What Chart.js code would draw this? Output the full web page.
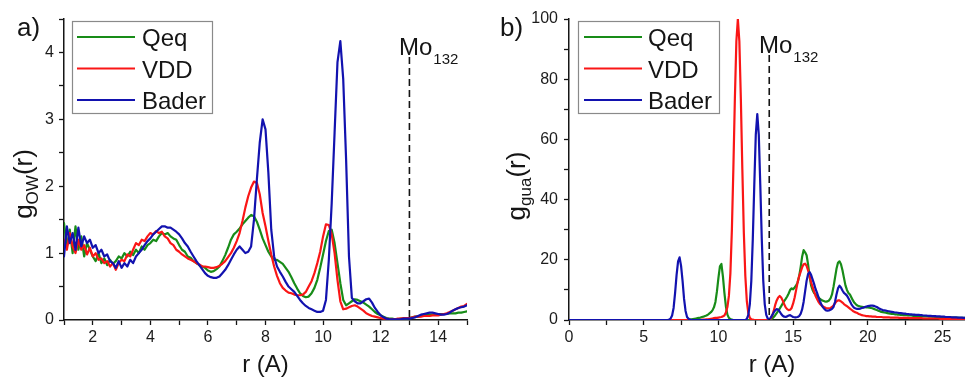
<!DOCTYPE html>
<html><head><meta charset="utf-8">
<script src="https://cdn.jsdelivr.net/npm/chart.js@4.4.1/dist/chart.umd.min.js"></script>
<style>
html,body{margin:0;padding:0;background:#fff;}
#wrap{position:relative;width:965px;height:384px;overflow:hidden;background:#fff;}
#ca{position:absolute;left:0;top:0;}
#cb{position:absolute;left:485px;top:0;}
</style></head><body>
<div id="wrap"><canvas id="ca" width="480" height="384"></canvas><canvas id="cb" width="480" height="384"></canvas></div>
<script>
// ---------------- DATA ----------------
const seriesNames = ['Qeq', 'VDD', 'Bader'];
const seriesColors = ['rgb(24,140,24)', 'rgb(250,22,22)', 'rgb(18,18,175)'];

// panel a) : r from 1.0 to 15.0, step 0.1
const rA_start = 1.0, rA_count = 141, rA_step = 0.1;
const qeqA = [
1.45,1.1,1.35,1.0,1.4,1.05,1.25,0.95,1.15,1.05,
0.95,0.88,1.0,0.85,0.92,0.82,0.9,0.84,0.88,0.95,
0.92,1.0,0.95,1.02,0.97,1.05,1.0,1.1,1.05,1.12,
1.15,1.2,1.18,1.25,1.3,1.28,1.3,1.25,1.22,1.2,
1.12,1.05,1.02,0.95,0.93,0.88,0.85,0.82,0.8,0.78,
0.74,0.72,0.73,0.76,0.8,0.88,0.97,1.08,1.2,1.28,
1.32,1.37,1.43,1.48,1.53,1.57,1.55,1.47,1.35,1.22,
1.12,1.02,0.95,0.9,0.9,0.87,0.84,0.78,0.72,0.64,
0.55,0.47,0.4,0.36,0.34,0.35,0.4,0.48,0.6,0.78,
0.98,1.18,1.33,1.35,1.15,0.85,0.55,0.3,0.22,0.25,
0.28,0.31,0.3,0.28,0.26,0.23,0.2,0.16,0.12,0.09,
0.07,0.05,0.03,0.02,0.02,0.01,0.01,0.02,0.02,0.02,
0.03,0.04,0.05,0.05,0.06,0.07,0.08,0.08,0.08,0.09,
0.09,0.09,0.09,0.09,0.1,0.1,0.1,0.11,0.11,0.12,
0.13];
const vddA = [
1.2,1.05,1.3,1.1,1.0,1.2,1.05,1.12,0.98,1.08,
0.95,1.0,0.9,0.92,0.85,0.88,0.8,0.85,0.75,0.85,
0.9,0.88,0.98,0.95,1.05,1.15,1.12,1.2,1.18,1.25,
1.3,1.28,1.33,1.3,1.32,1.25,1.22,1.15,1.12,1.05,
1.02,0.98,0.95,0.92,0.9,0.88,0.85,0.83,0.8,0.8,
0.79,0.78,0.78,0.79,0.81,0.84,0.88,0.94,1.0,1.08,
1.18,1.3,1.48,1.68,1.85,1.98,2.07,2.05,1.88,1.6,
1.4,1.18,0.98,0.8,0.66,0.55,0.48,0.44,0.41,0.4,
0.38,0.37,0.37,0.38,0.42,0.5,0.58,0.7,0.85,1.02,
1.25,1.43,1.42,1.28,1.0,0.6,0.28,0.16,0.17,0.19,
0.21,0.22,0.2,0.17,0.14,0.1,0.08,0.06,0.05,0.04,
0.03,0.02,0.02,0.01,0.01,0.01,0.02,0.02,0.03,0.03,
0.03,0.04,0.05,0.05,0.05,0.06,0.06,0.06,0.07,0.07,
0.07,0.08,0.09,0.1,0.12,0.14,0.16,0.18,0.2,0.21,
0.24];
const baderA = [
0.95,1.4,1.15,1.3,1.05,1.38,1.1,1.25,1.15,1.2,
1.08,1.12,1.0,1.05,0.95,0.98,0.88,0.85,0.78,0.88,
0.78,0.85,0.8,0.9,0.85,0.95,1.0,1.05,1.12,1.18,
1.22,1.28,1.32,1.36,1.4,1.4,1.38,1.38,1.35,1.32,
1.28,1.22,1.15,1.1,1.02,0.95,0.88,0.82,0.76,0.7,
0.66,0.64,0.63,0.63,0.65,0.7,0.75,0.82,0.9,0.98,
1.05,1.1,1.05,1.0,1.02,1.1,1.5,2.1,2.65,3.0,
2.85,2.2,1.35,0.95,0.8,0.72,0.65,0.57,0.5,0.46,
0.42,0.36,0.3,0.25,0.21,0.18,0.16,0.14,0.12,0.12,
0.14,0.3,0.9,1.75,2.8,3.85,4.17,3.6,2.4,0.95,
0.33,0.28,0.25,0.25,0.28,0.31,0.32,0.26,0.18,0.12,
0.07,0.04,0.02,0.01,0.01,0.01,0.01,0.01,0.02,0.02,
0.02,0.03,0.04,0.06,0.08,0.09,0.1,0.11,0.11,0.1,
0.09,0.08,0.08,0.09,0.11,0.14,0.16,0.18,0.19,0.2,
0.22];

// panel b) : r = 0, then 6.0 to 26.5 step 0.1
const rB_first = [0];
const rB_start = 6.0, rB_count = 206, rB_step = 0.1;
const qeqB = [0,
0,0,0,0,0,0,0,0,0,0,
0,0,0,0,0,0,0,0,0,0,
0,0.1,0.2,0.3,0.4,0.5,0.6,0.7,0.8,1.0,
1.1,1.3,1.5,1.8,2.2,2.6,3.2,4.2,6,9.5,
14,17.8,18.6,14.5,9,4.5,1.8,0.7,0.3,0.1,
0,0,0,0,0,0,0,0,0,0,
0,0,0,0,0,0,0,0,0,0,
0,0,0,0,0,0.2,0.5,1,1.6,2.3,
3,3.8,4.6,5.5,6.3,7,7.8,8.8,10,10.5,
10.2,10.8,11.5,12.5,14.5,17.5,21,23.2,22.5,21.5,
18.5,14.5,11.5,10,9,8.5,8,7.5,7,6.6,
6.4,6.2,6.1,6.2,6.5,7.2,8.5,11,14,17,
19,19.5,18.5,16.5,14,11.5,10,9,8.5,7.5,
6.5,5.7,5.2,4.8,4.6,4.5,4.4,4.3,4.3,4.2,
4.2,4.1,4.0,3.9,3.7,3.5,3.3,3.1,2.9,2.7,
2.6,2.5,2.4,2.3,2.2,2.1,2.0,2.0,1.9,1.9,
1.8,1.8,1.7,1.7,1.6,1.6,1.6,1.5,1.5,1.5,
1.4,1.4,1.4,1.3,1.3,1.3,1.3,1.2,1.2,1.2,
1.2,1.1,1.1,1.1,1.1,1.0,1.0,1.0,1.0,1.0,
0.9,0.9,0.9,0.9,0.9,0.8,0.8,0.8,0.8,0.8,
0.8,0.7,0.7,0.7,0.7,0.7];
const vddB = [0,
0,0,0,0,0,0,0,0,0,0,
0,0,0,0,0,0,0,0,0,0,
0,0,0,0,0,0,0,0,0,0.1,
0.1,0.1,0.2,0.2,0.3,0.4,0.5,0.6,0.7,0.7,
0.8,0.9,1.0,1.2,1.5,2.5,4.3,8,15.5,30,
50.5,73.5,92.6,100,92.6,73.5,50,29,14.6,6.3,
2.3,0.7,0.2,0.1,0,0,0,0,0,0,
0,0,0,0,0,0.5,1.5,3,5,6.5,
7.5,8,7.5,6.5,5.2,4.2,3.6,3.3,3.4,4,
5.5,7.5,10,12.5,14.5,16,17.5,18.5,18.7,18,
16.5,14.5,12.5,11,9.5,8,7,6,5.3,4.8,
4.5,4.2,4,3.9,3.9,4,4.3,4.8,5.5,6.2,
6.5,6.5,6.2,5.8,5.3,4.9,4.6,4.2,3.8,3.4,
3.0,2.7,2.5,2.3,2.0,1.8,1.6,1.5,1.4,1.3,
1.3,1.2,1.2,1.1,1.1,1.1,1.0,1.0,1.0,1.0,
0.9,0.9,0.9,0.9,0.9,0.8,0.8,0.8,0.8,0.8,
0.8,0.7,0.7,0.7,0.7,0.7,0.7,0.7,0.6,0.6,
0.6,0.6,0.6,0.6,0.6,0.6,0.6,0.5,0.5,0.5,
0.5,0.5,0.5,0.5,0.5,0.5,0.5,0.5,0.4,0.4,
0.4,0.4,0.4,0.4,0.4,0.4,0.4,0.4,0.4,0.4,
0.4,0.4,0.4,0.3,0.3,0.3];
const baderB = [0,
0,0,0,0,0,0,0,0.1,0.5,1.5,
4,9,15,19.5,20.8,18,13,7,3,1,
0.4,0.1,0,0,0,0,0,0,0,0,
0,0,0,0,0,0,0,0,0,0,
0,0,0,0,0,0,0,0,0,0,
0,0,0,0,0,0,0,0,0,0.4,
1.7,5.2,13,27,45,61.6,68.4,61.6,45,27,
13,5.2,1.7,0.5,0.2,0.8,1.6,2.5,3.2,3.6,
3.5,2.8,2.0,1.4,1.1,1.0,1.2,1.5,1.6,1.3,
1.0,0.9,0.9,1.0,1.3,2.0,3.5,6,9.5,13,
15.3,15.9,15,13.5,12,10.3,9,7.5,6.2,5.0,
4.2,3.6,3.2,3.1,3.2,3.4,3.7,4.3,6,8.5,
10.5,11.4,10.8,9.8,9.0,8.6,8.1,7.2,6.2,5.2,
4.5,4.0,3.8,3.7,3.7,3.8,4.0,4.1,4.3,4.5,
4.6,4.7,4.8,4.8,4.7,4.5,4.3,4.0,3.7,3.5,
3.3,3.2,3.1,3.0,2.9,2.8,2.7,2.6,2.5,2.5,
2.4,2.3,2.3,2.2,2.1,2.1,2.0,2.0,1.9,1.9,
1.8,1.8,1.7,1.7,1.7,1.6,1.6,1.5,1.5,1.5,
1.4,1.4,1.4,1.3,1.3,1.3,1.2,1.2,1.2,1.1,
1.1,1.1,1.0,1.0,1.0,1.0,0.9,0.9,0.9,0.9,
0.8,0.8,0.8,0.8,0.7,0.7];

// ticks
const xTicksA = [1,2,3,4,5,6,7,8,9,10,11,12,13,14,15];
const yTicksA = [0,0.5,1,1.5,2,2.5,3,3.5,4,4.5];
const xTicksB = [0,2.5,5,7.5,10,12.5,15,17.5,20,22.5,25];
const yTicksB = [0,10,20,30,40,50,60,70,80,90,100];
const moPosA = 13.0, moPosB = 13.4;

// ---------------- BUILD ----------------
const FONT = '"Liberation Sans", Arial, sans-serif';
const INK = '#151515';
function grid(start, n, step) { return Array.from({length: n}, (_, i) => +(start + i * step).toFixed(2)); }
const rA = grid(rA_start, rA_count, rA_step);
const rB = rB_first.concat(grid(rB_start, rB_count, rB_step));

function ds(xs, ys, k) {
  return { label: seriesNames[k], data: xs.map((x, i) => ({x: x, y: ys[i]})),
    borderColor: seriesColors[k], backgroundColor: seriesColors[k], borderWidth: 2.2,
    pointRadius: 0, tension: 0, fill: false, order: 3 - k };
}

function axis(min, max, ticks, labelFn, fitKey, fitVal, pad) {
  return {
    type: 'linear', min: min, max: max,
    afterBuildTicks: s => { s.ticks = ticks.map(v => ({value: v})); },
    ticks: { callback: labelFn, autoSkip: false, maxRotation: 0, minRotation: 0,
      font: {family: FONT, size: 16}, color: '#1c1c1c', padding: pad },
    grid: { display: true, drawOnChartArea: false, drawTicks: true, tickLength: 5,
      tickColor: INK, tickWidth: 1.3 },
    border: { display: true, color: INK, width: 1.5 },
    title: { display: false },
    afterFit: s => { s[fitKey] = fitVal; }
  };
}

const decoPlugin = {
  id: 'deco',
  afterDraw(chart) {
    const sp = chart.options.plugins.deco;
    const ctx = chart.ctx, ca = chart.chartArea;
    ctx.save();
    ctx.fillStyle = INK; ctx.textBaseline = 'alphabetic';
    // panel label
    ctx.textAlign = 'left';
    ctx.font = '26px ' + FONT;
    ctx.fillText(sp.panel, sp.panelX, sp.panelY);
    // x title
    ctx.textAlign = 'center';
    ctx.font = '24px ' + FONT;
    ctx.fillText('r (A)', (ca.left + ca.right) / 2 + sp.xTitleDx, sp.xTitleY);
    // y title (rotated, with subscript)
    ctx.save();
    ctx.translate(sp.yTitleX, sp.yTitleCY);
    ctx.rotate(-Math.PI / 2);
    ctx.textAlign = 'left';
    ctx.font = '26px ' + FONT; const w1 = ctx.measureText('g').width, w3 = ctx.measureText('(r)').width;
    ctx.font = '17px ' + FONT; const w2 = ctx.measureText(sp.ySub).width;
    const x0 = -(w1 + w2 + w3) / 2;
    ctx.font = '26px ' + FONT; ctx.fillText('g', x0, 0);
    ctx.font = '17px ' + FONT; ctx.fillText(sp.ySub, x0 + w1, 6);
    ctx.font = '26px ' + FONT; ctx.fillText('(r)', x0 + w1 + w2, 0);
    ctx.restore();
    // Mo132 dashed marker
    const px = chart.scales.x.getPixelForValue(sp.mo);
    ctx.strokeStyle = INK; ctx.lineWidth = 1.6; ctx.setLineDash([7, 4]);
    ctx.beginPath(); ctx.moveTo(px, sp.moTop); ctx.lineTo(px, ca.bottom); ctx.stroke();
    ctx.setLineDash([]);
    ctx.textAlign = 'left';
    ctx.font = '24px ' + FONT; ctx.fillText('Mo', sp.moX, sp.moY);
    const wm = ctx.measureText('Mo').width;
    ctx.font = '15px ' + FONT; ctx.fillText('132', sp.moX + wm + 1, sp.moY + 8.5);
    // legend
    const L = sp.legend;
    ctx.fillStyle = '#fff'; ctx.fillRect(L.x, L.y, L.w, L.h);
    ctx.strokeStyle = '#8a8a8a'; ctx.lineWidth = 1.2; ctx.strokeRect(L.x + 0.5, L.y + 0.5, L.w, L.h);
    ctx.font = '24px ' + FONT;
    chart.data.datasets.forEach((d, i) => {
      const y = L.rows[i];
      ctx.strokeStyle = d.borderColor; ctx.lineWidth = 2.2;
      ctx.beginPath(); ctx.moveTo(L.x1, y); ctx.lineTo(L.x2, y); ctx.stroke();
      ctx.fillStyle = INK; ctx.fillText(d.label, L.tx, y + 9);
    });
    ctx.restore();
  }
};

function makeChart(id, xs, ys, xAxis, yAxis, padding, deco) {
  return new Chart(document.getElementById(id), {
    type: 'line',
    data: { datasets: ys.map((v, k) => ds(xs, v, k)) },
    options: {
      responsive: false, animation: false, devicePixelRatio: 1,
      layout: { padding: padding },
      scales: { x: xAxis, y: yAxis },
      plugins: { legend: {display: false}, tooltip: {enabled: false}, title: {display: false}, deco: deco },
      elements: { line: { borderJoinStyle: 'round', borderCapStyle: 'round' } }
    },
    plugins: [decoPlugin]
  });
}

makeChart('ca', rA, [qeqA, vddA, baderA],
  axis(1, 15, xTicksA, v => (v % 2 === 0 ? String(v) : ''), 'height', 64, 3),
  axis(0, 4.5, yTicksA, v => (Number.isInteger(v) ? String(v) : ''), 'width', 64, 5),
  {top: 19, right: 13, left: 0, bottom: 0},
  { panel: 'a)', panelX: 17, panelY: 36, xTitleDx: 0, xTitleY: 372,
    ySub: 'OW', yTitleX: 32, yTitleCY: 184,
    mo: moPosA, moTop: 57, moX: 399, moY: 55,
    legend: {x: 72, y: 21, w: 140, h: 92, x1: 77, x2: 135, tx: 142, rows: [37, 68.5, 100]} });

makeChart('cb', rB, [qeqB, vddB, baderB],
  axis(0, 26.5, xTicksB, v => (v % 5 === 0 ? String(v) : ''), 'height', 64, 3),
  axis(0, 100, yTicksB, v => (v % 20 === 0 ? String(v) : ''), 'width', 84, 6),
  {top: 19, right: 0, left: 0, bottom: 0},
  { panel: 'b)', panelX: 15, panelY: 36, xTitleDx: 5, xTitleY: 372,
    ySub: 'gua', yTitleX: 40, yTitleCY: 186,
    mo: moPosB, moTop: 55, moX: 274, moY: 53,
    legend: {x: 93, y: 21, w: 141, h: 92, x1: 99, x2: 157, tx: 163, rows: [37, 68.5, 100]} });
</script>
</body></html>
